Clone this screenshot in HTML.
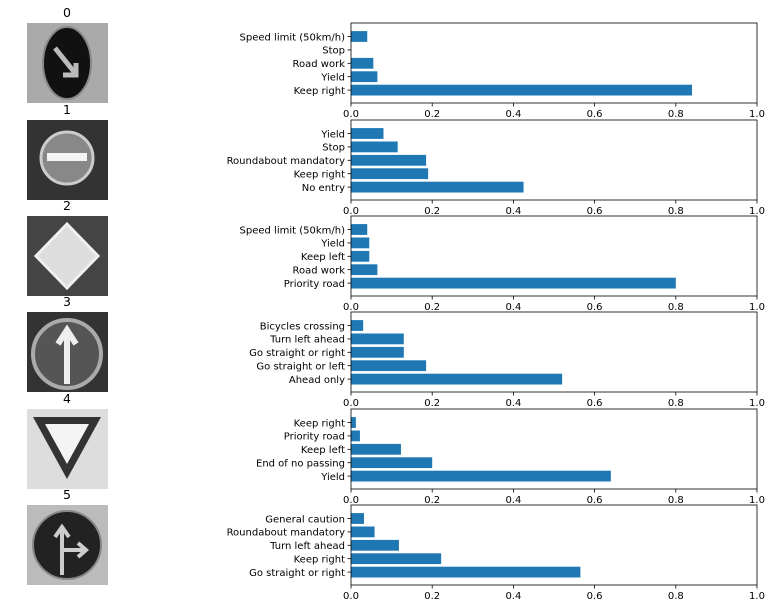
<!DOCTYPE html>
<html><head><meta charset="utf-8"><style>
body{margin:0;background:#fff;width:772px;height:610px;overflow:hidden}
svg{font-family:"DejaVu Sans","Liberation Sans",sans-serif}
</style></head><body>
<svg id="fig" width="772" height="610"></svg>
<script>
const labels0=["Speed limit (50km/h)","Stop","Road work","Yield","Keep right"];
const values0=[0.04,0.0,0.055,0.065,0.84];
const labels1=["Yield","Stop","Roundabout mandatory","Keep right","No entry"];
const values1=[0.08,0.115,0.185,0.19,0.425];
const labels2=["Speed limit (50km/h)","Yield","Keep left","Road work","Priority road"];
const values2=[0.04,0.045,0.045,0.065,0.80];
const labels3=["Bicycles crossing","Turn left ahead","Go straight or right","Go straight or left","Ahead only"];
const values3=[0.03,0.13,0.13,0.185,0.52];
const labels4=["Keep right","Priority road","Keep left","End of no passing","Yield"];
const values4=[0.012,0.022,0.123,0.2,0.64];
const labels5=["General caution","Roundabout mandatory","Turn left ahead","Keep right","Go straight or right"];
const values5=[0.032,0.058,0.118,0.222,0.565];
const xTicks=[0,0.2,0.4,0.6,0.8,1.0];
const xTickLabels=["0.0","0.2","0.4","0.6","0.8","1.0"];
const rowLabels=["0","1","2","3","4","5"];

const allLabels=[labels0,labels1,labels2,labels3,labels4,labels5];
const allValues=[values0,values1,values2,values3,values4,values5];
const tops=[23,120,216,312,409,505];
const NS="http://www.w3.org/2000/svg";
const svg=document.getElementById('fig');
function mk(t,a,p){const e=document.createElementNS(NS,t);for(const k in a)e.setAttribute(k,a[k]);(p||svg).appendChild(e);return e;}
const X0=351,X1=757,H=80;
const xs=v=>X0+v*(X1-X0);
// image placeholders
const imgs=[
 g=>{mk('rect',{x:27,y:0,width:81,height:80,fill:'#aaa'},g);mk('ellipse',{cx:67,cy:40,rx:24,ry:36,fill:'#111',stroke:'#888','stroke-width':2},g);mk('path',{d:'M55 25 L75 50 M63 52 L76 52 L76 40',stroke:'#bbb','stroke-width':5,fill:'none'},g);},
 g=>{mk('rect',{x:27,y:0,width:81,height:80,fill:'#333'},g);mk('circle',{cx:67,cy:38,r:26,fill:'#888',stroke:'#ccc','stroke-width':3},g);mk('rect',{x:47,y:33,width:40,height:8,fill:'#f4f4f4'},g);},
 g=>{mk('rect',{x:27,y:0,width:81,height:80,fill:'#444'},g);mk('polygon',{points:'67,8 98,40 67,72 36,40',fill:'#ddd',stroke:'#f0f0f0','stroke-width':3},g);},
 g=>{mk('rect',{x:27,y:0,width:81,height:80,fill:'#333'},g);mk('circle',{cx:67,cy:42,r:34,fill:'#555',stroke:'#aaa','stroke-width':4},g);mk('path',{d:'M67 72 L67 20 M58 32 L67 18 L76 32',stroke:'#eee','stroke-width':6,fill:'none'},g);},
 g=>{mk('rect',{x:27,y:0,width:81,height:80,fill:'#ddd'},g);mk('polygon',{points:'33,8 101,8 67,70',fill:'#333'},g);mk('polygon',{points:'45,15 89,15 67,55',fill:'#f4f4f4'},g);},
 g=>{mk('rect',{x:27,y:0,width:81,height:80,fill:'#bbb'},g);mk('circle',{cx:67,cy:40,r:34,fill:'#222',stroke:'#888','stroke-width':2},g);mk('path',{d:'M62 70 L62 25 M62 45 L85 45 M78 38 L86 45 L78 52 M55 32 L62 22 L69 32',stroke:'#ccc','stroke-width':4,fill:'none'},g);},
];
for(let r=0;r<6;r++){
  const top=tops[r];
  const g=mk('g',{transform:`translate(0,${top})`});
  
  
  const ig=mk('g',{},g);
  
  
  imgs[r](ig);
  const t=mk('text',{x:67,y:-6,'font-size':12.5,'text-anchor':'middle',fill:'#000'},g);
  t.textContent=rowLabels[r];
  
  
  const labs=allLabels[r],vals=allValues[r],n=labs.length;
  const step=13.4, c0=13.5;
  const ys=i=>c0+i*step;
  for(let i=0;i<n;i++){
    const b=mk('rect',{x:X0,y:ys(i)-5.4,width:xs(vals[i])-X0,height:10.8,fill:'#1f77b4'},g);
    
    
    mk('line',{x1:X0-3.5,x2:X0,y1:ys(i),y2:ys(i),stroke:'#000','stroke-width':0.8},g);
    const l=mk('text',{x:X0-6,y:ys(i)+3.8,'font-size':10,'text-anchor':'end',fill:'#000'},g);
    l.textContent=labs[i];
    
    
  }
  const fr=mk('rect',{x:X0,y:0,width:X1-X0,height:H,fill:'none',stroke:'#000','stroke-width':0.8},g);
  
  
  xTicks.forEach((v,k)=>{
    mk('line',{x1:xs(v),x2:xs(v),y1:H,y2:H+3.5,stroke:'#000','stroke-width':0.8},g);
    const tl=mk('text',{x:xs(v),y:H+14,'font-size':10,'text-anchor':'middle',fill:'#000'},g);
    tl.textContent=xTickLabels[k];
    
    
  });
}
</script>
</body></html>
